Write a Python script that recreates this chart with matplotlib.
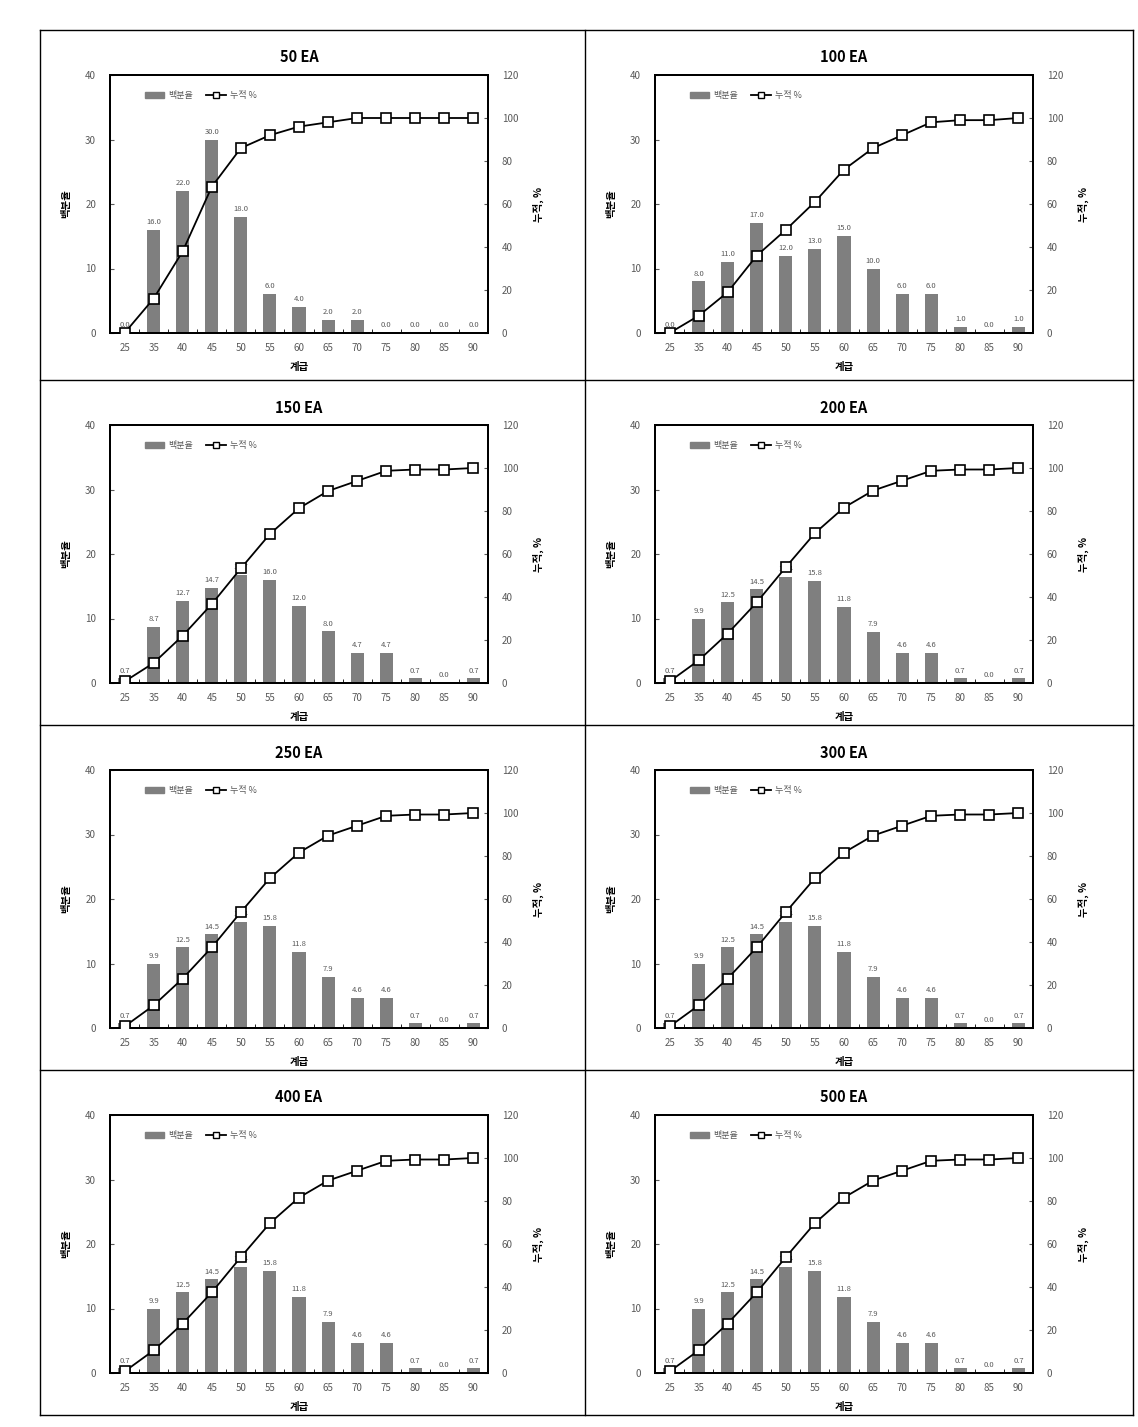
import numpy as np
import matplotlib
matplotlib.use("Agg")
import matplotlib.pyplot as plt
from matplotlib.lines import Line2D
from matplotlib.patches import Patch

plt.rcParams['font.family'] = ['Noto Sans CJK KR', 'DejaVu Sans']

# -----------------------------
# data
# -----------------------------
classes = ["25", "35", "40", "45", "50", "55", "60", "65", "70", "75", "80", "85", "90"]
titles = ["50 EA", "100 EA", "150 EA", "200 EA", "250 EA", "300 EA", "400 EA", "500 EA"]

pct_50 = [0.0, 16.0, 22.0, 30.0, 18.0, 6.0, 4.0, 2.0, 2.0, 0.0, 0.0, 0.0, 0.0]
cum_50 = [0, 16, 38, 68, 86, 92, 96, 98, 100, 100, 100, 100, 100]

pct_100 = [0.0, 8.0, 11.0, 17.0, 12.0, 13.0, 15.0, 10.0, 6.0, 6.0, 1.0, 0.0, 1.0]
cum_100 = [0, 8, 19, 36, 48, 61, 76, 86, 92, 98, 99, 99, 100]

pct_150 = [0.7, 8.7, 12.7, 14.7, 16.7, 16.0, 12.0, 8.0, 4.7, 4.7, 0.7, 0.0, 0.7]
cum_150 = [0.7, 9.3, 22.0, 36.7, 53.3, 69.3, 81.3, 89.3, 94.0, 98.7, 99.3, 99.3, 100]

# 200 ~ 500 EA panels show the same distribution
pct_200 = [0.7, 9.9, 12.5, 14.5, 16.4, 15.8, 11.8, 7.9, 4.6, 4.6, 0.7, 0.0, 0.7]
cum_200 = [0.7, 10.5, 23.0, 37.5, 53.9, 69.7, 81.6, 89.5, 94.1, 98.7, 99.3, 99.3, 100]

pct_list = [pct_50, pct_100, pct_150, pct_200, pct_200, pct_200, pct_200, pct_200]
cum_list = [cum_50, cum_100, cum_150, cum_200, cum_200, cum_200, cum_200, cum_200]

# -----------------------------
# layout (pixels -> figure fraction)
# -----------------------------
W, H = 1138, 1427
fig = plt.figure(figsize=(W / 100, H / 100), dpi=100)

col_x = [40, 585, 1133]
row_y = [30, 380, 725, 1070, 1415]

def fx(x):
    return x / W

def fy(y):
    return 1 - y / H

# table borders
for x in col_x:
    fig.add_artist(Line2D([fx(x), fx(x)], [fy(row_y[0]), fy(row_y[-1])], color="black", lw=1))
for y in row_y:
    fig.add_artist(Line2D([fx(col_x[0]), fx(col_x[-1])], [fy(y), fy(y)], color="black", lw=1))

gray_txt = "#595959"
x = np.arange(len(classes))

for i in range(8):
    r, c = divmod(i, 2)
    cx, cy = col_x[c], row_y[r]
    left, top = cx + 70, cy + 45
    w, h = 378, 258
    ax = fig.add_axes([fx(left), fy(top + h), w / W, h / H])

    pct = pct_list[i]
    cum = cum_list[i]

    ax.bar(x, pct, width=0.45, color="#7f7f7f", zorder=2)
    for xi, v in zip(x, pct):
        ax.text(xi, v + 0.6, f"{v:.1f}", ha="center", va="bottom", fontsize=5.5,
                color=gray_txt, zorder=3)

    ax.set_xlim(-0.5, len(classes) - 0.5)
    ax.set_ylim(0, 40)
    ax.set_yticks([0, 10, 20, 30, 40])
    ax.set_xticks(x)
    ax.set_xticklabels(classes)
    ax.set_xticks(np.arange(-0.5, len(classes), 1), minor=True)
    ax.tick_params(axis="x", which="major", length=0, labelsize=7, colors=gray_txt, pad=7)
    ax.tick_params(axis="x", which="minor", length=3, direction="in", color="black")
    ax.tick_params(axis="y", length=3, direction="in", labelsize=7, colors=gray_txt, pad=10)
    for s in ax.spines.values():
        s.set_linewidth(1.4)
    ax.set_ylabel("백분율", fontsize=7.5, fontweight="bold", labelpad=10)
    ax.set_xlabel("계급", fontsize=7.5, fontweight="bold", labelpad=7)
    ax.set_title(titles[i], fontsize=10.5, fontweight="bold", pad=9)

    ax2 = ax.twinx()
    ax2.plot(x, cum, color="black", lw=1.3, marker="s", markersize=6.5,
             markerfacecolor="white", markeredgecolor="black", markeredgewidth=1.2,
             zorder=4)
    ax2.set_ylim(0, 120)
    ax2.set_yticks([0, 20, 40, 60, 80, 100, 120])
    ax2.tick_params(axis="y", length=3, direction="in", labelsize=7, colors=gray_txt, pad=10)
    for s in ax2.spines.values():
        s.set_linewidth(1.4)
    ax2.set_ylabel("누적, %", fontsize=7.5, fontweight="bold", labelpad=10)

    handles = [Patch(facecolor="#7f7f7f", edgecolor="#7f7f7f"),
               Line2D([0], [0], color="black", lw=1.3, marker="s", markersize=5,
                      markerfacecolor="white", markeredgecolor="black")]
    ax2.legend(handles, ["백분율", "누적 %"], loc="upper left", bbox_to_anchor=(0.07, 0.97),
               ncol=2, frameon=False, prop={"size": 6.5}, handlelength=2.2,
               handleheight=0.6, handletextpad=0.4, columnspacing=1.5, labelcolor=gray_txt)

fig.savefig("out.png", dpi=100)
